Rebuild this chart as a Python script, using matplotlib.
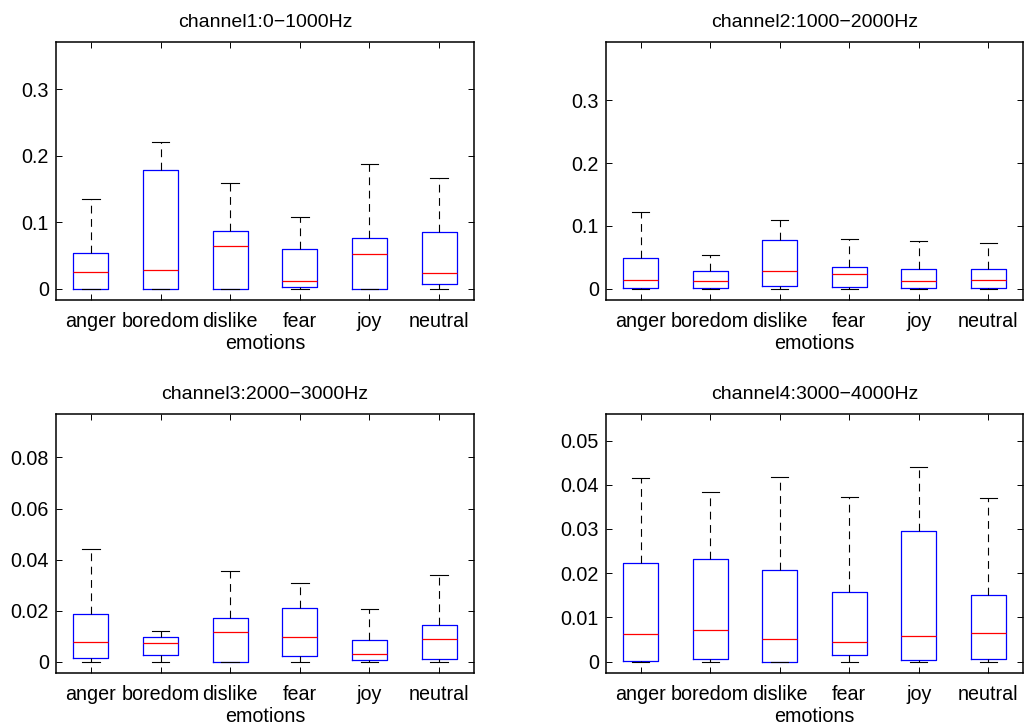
import numpy as np
import matplotlib
matplotlib.use("Agg")
import matplotlib.pyplot as plt

plt.rcParams['font.family'] = ['Liberation Sans', 'DejaVu Sans']

emotions = ['anger', 'boredom', 'dislike', 'fear', 'joy', 'neutral']

titles = ['channel1:0\u22121000Hz', 'channel2:1000\u22122000Hz',
          'channel3:2000\u22123000Hz', 'channel4:3000\u22124000Hz']

# box stats: lower whisker, q1, median, q3, upper whisker
ch1_lo  = [0, 0, 0, 0, 0, 0]
ch1_q1  = [0, 0, 0, 0.002, 0, 0.0065]
ch1_med = [0.0246, 0.0276, 0.0647, 0.012, 0.052, 0.0236]
ch1_q3  = [0.054, 0.179, 0.0867, 0.060, 0.0767, 0.0847]
ch1_hi  = [0.135, 0.221, 0.159, 0.108, 0.1875, 0.167]

ch2_lo  = [0, 0, 0, 0, 0, 0]
ch2_q1  = [0.0016, 0.001, 0.0048, 0.0027, 0.0005, 0.0005]
ch2_med = [0.0144, 0.0117, 0.0277, 0.0234, 0.0117, 0.0133]
ch2_q3  = [0.0495, 0.0277, 0.0777, 0.034, 0.0314, 0.0309]
ch2_hi  = [0.122, 0.0537, 0.110, 0.0798, 0.0766, 0.0729]

ch3_lo  = [0, 0, 0, 0, 0, 0]
ch3_q1  = [0.0016, 0.0028, 0, 0.0021, 0.0005, 0.0012]
ch3_med = [0.0076, 0.0072, 0.0118, 0.0097, 0.0029, 0.0088]
ch3_q3  = [0.0186, 0.0097, 0.0170, 0.0212, 0.0086, 0.0144]
ch3_hi  = [0.0443, 0.0122, 0.0356, 0.0310, 0.0208, 0.0340]

ch4_lo  = [0, 0, 0, 0, 0, 0]
ch4_q1  = [0.00015, 0.0006, 0, 0.00136, 0.00045, 0.0006]
ch4_med = [0.0063, 0.0072, 0.0051, 0.0045, 0.0057, 0.0064]
ch4_q3  = [0.0223, 0.0231, 0.0207, 0.0158, 0.0296, 0.0151]
ch4_hi  = [0.0415, 0.0384, 0.0417, 0.0373, 0.0439, 0.0370]

channels = [
    (ch1_lo, ch1_q1, ch1_med, ch1_q3, ch1_hi),
    (ch2_lo, ch2_q1, ch2_med, ch2_q3, ch2_hi),
    (ch3_lo, ch3_q1, ch3_med, ch3_q3, ch3_hi),
    (ch4_lo, ch4_q1, ch4_med, ch4_q3, ch4_hi),
]

yticks = [[0, 0.1, 0.2, 0.3], [0, 0.1, 0.2, 0.3],
          [0, 0.02, 0.04, 0.06, 0.08], [0, 0.01, 0.02, 0.03, 0.04, 0.05]]
ylims = [(-0.017, 0.371), (-0.018, 0.393), (-0.0044, 0.097), (-0.0026, 0.056)]
yfmt = [['0', '0.1', '0.2', '0.3'], ['0', '0.1', '0.2', '0.3'],
        ['0', '0.02', '0.04', '0.06', '0.08'],
        ['0', '0.01', '0.02', '0.03', '0.04', '0.05']]

# axes rectangles in pixels (left, top, width, height)
W, H = 1027, 726
rects = [(56, 42, 418, 258), (606, 42, 417, 258),
         (56, 414, 418, 259), (606, 414, 417, 259)]

fig = plt.figure(figsize=(10.27, 7.26), dpi=100)

for k in range(4):
    x0, y0, w, h = rects[k]
    ax = fig.add_axes([x0 / W, 1 - (y0 + h) / H, w / W, h / H])
    lo, q1, med, q3, hi = channels[k]
    stats = []
    for i in range(6):
        stats.append(dict(whislo=lo[i], q1=q1[i], med=med[i], q3=q3[i],
                          whishi=hi[i], fliers=[], label=emotions[i]))
    ax.bxp(stats, positions=range(1, 7), widths=0.5, showfliers=False,
           boxprops=dict(color='#0000ff', linewidth=0.9),
           medianprops=dict(color='#ff0000', linewidth=0.9),
           whiskerprops=dict(color='black', linestyle=(0, (7, 5)), linewidth=0.8),
           capprops=dict(color='black', linewidth=0.8),
           capwidths=0.25)
    ax.set_xlim(0.5, 6.5)
    ax.set_ylim(*ylims[k])
    ax.set_yticks(yticks[k])
    ax.set_yticklabels(yfmt[k])
    ax.set_xticks(range(1, 7))
    ax.set_xticklabels(emotions)
    ax.tick_params(direction='in', top=True, right=True, length=4,
                   width=0.7, labelsize=14.2, pad=5)
    ax.tick_params(axis='x', pad=9)
    for s in ax.spines.values():
        s.set_linewidth(1.1)
    ax.set_title(titles[k], fontsize=14, pad=11)
    ax.set_xlabel('emotions', fontsize=14.2, labelpad=2)

plt.savefig('out.png', dpi=100)
